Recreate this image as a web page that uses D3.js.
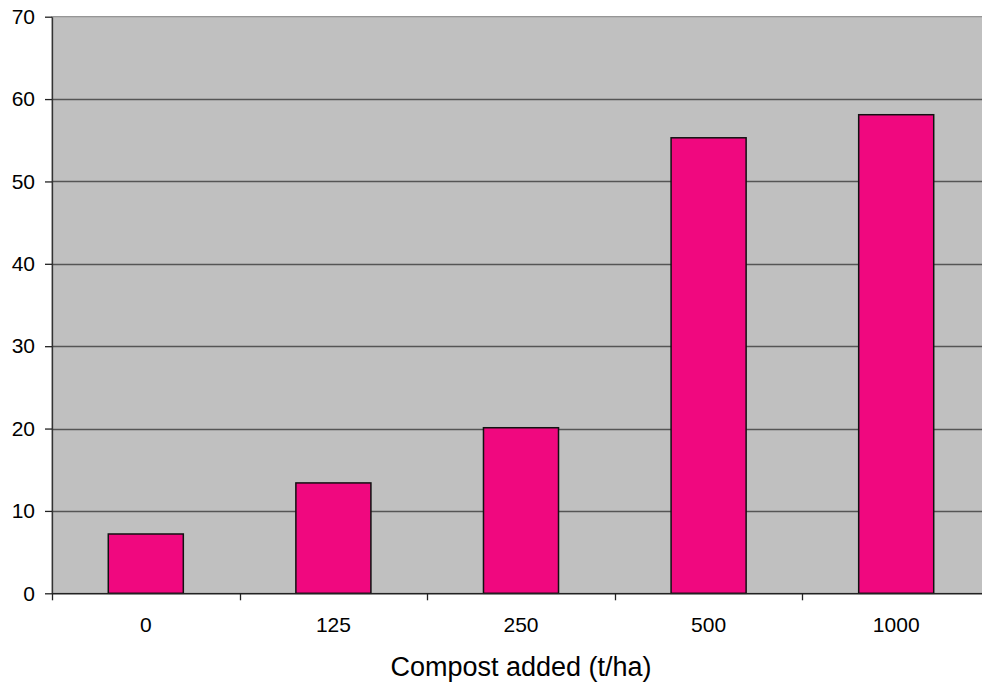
<!DOCTYPE html>
<html>
<head>
<meta charset="utf-8">
<script src="https://cdn.jsdelivr.net/npm/d3@7"></script>
<style>
  html, body { margin: 0; padding: 0; background: #fff; }
  svg { display: block; font-family: "Liberation Sans", Arial, sans-serif; }
</style>
</head>
<body>
<svg id="chart" width="982" height="684"></svg>
<script>
// Compost application rates and the measured response for each
const categories = ["0", "125", "250", "500", "1000"];
const values = [7.2, 13.4, 20.1, 55.3, 58.1];
const yTicks = [0, 10, 20, 30, 40, 50, 60, 70];
const xTitle = "Compost added (t/ha)";

const svg = d3.select("#chart");
const plot = { left: 52, right: 990, top: 16.7, bottom: 593.3 };

const x = d3.scaleBand()
  .domain(categories)
  .range([plot.left, plot.right])
  .paddingInner(0.6)
  .paddingOuter(0.3);

const y = d3.scaleLinear()
  .domain([0, 70])
  .range([plot.bottom, plot.top]);

// Plot background
svg.append("rect")
  .attr("x", plot.left)
  .attr("y", plot.top)
  .attr("width", plot.right - plot.left)
  .attr("height", plot.bottom - plot.top)
  .attr("fill", "#c0c0c0")
  .attr("stroke", "#808080")
  .attr("stroke-width", 1);

// Horizontal gridlines
svg.append("g")
  .selectAll("line")
  .data(yTicks.filter(d => d > 0 && d < 70))
  .join("line")
  .attr("x1", plot.left)
  .attr("x2", plot.right)
  .attr("y1", d => Math.round(y(d)) + 0.5)
  .attr("y2", d => Math.round(y(d)) + 0.5)
  .attr("stroke", "#555")
  .attr("stroke-width", 1.3);

// Bars
svg.append("g")
  .selectAll("rect")
  .data(values)
  .join("rect")
  .attr("x", (d, i) => x(categories[i]))
  .attr("y", d => y(d))
  .attr("width", x.bandwidth())
  .attr("height", d => y(0) - y(d))
  .attr("fill", "#f0087f")
  .attr("stroke", "#111")
  .attr("stroke-width", 1.5);

// Y axis
const yAxis = svg.append("g")
  .attr("transform", `translate(${plot.left},0)`)
  .call(d3.axisLeft(y).tickValues(yTicks).tickSize(7).tickPadding(10).tickSizeOuter(0));
yAxis.select(".domain").attr("stroke", "#333").attr("stroke-width", 1.3);
yAxis.selectAll(".tick line").attr("stroke", "#222").attr("stroke-width", 1.3);
yAxis.selectAll("text").attr("font-size", 21).attr("fill", "#000");

// X axis: labels centred on categories, tick marks between them
const step = x.step();
const boundaries = d3.range(categories.length).map(i => plot.left + i * step);
const xAxis = svg.append("g")
  .attr("transform", `translate(0,${plot.bottom})`)
  .call(d3.axisBottom(x).tickSize(0).tickPadding(24).tickSizeOuter(0));
xAxis.select(".domain").attr("stroke", "#222").attr("stroke-width", 1.5);
xAxis.selectAll("text").attr("font-size", 21).attr("fill", "#000");
xAxis.append("g")
  .selectAll("line")
  .data(boundaries)
  .join("line")
  .attr("x1", d => Math.round(d) + 0.5)
  .attr("x2", d => Math.round(d) + 0.5)
  .attr("y1", 0)
  .attr("y2", 7)
  .attr("stroke", "#222")
  .attr("stroke-width", 1.3);

// X axis title
svg.append("text")
  .attr("x", (plot.left + plot.right) / 2)
  .attr("y", 676)
  .attr("text-anchor", "middle")
  .attr("font-size", 27)
  .attr("fill", "#000")
  .text(xTitle);
</script>
</body>
</html>
